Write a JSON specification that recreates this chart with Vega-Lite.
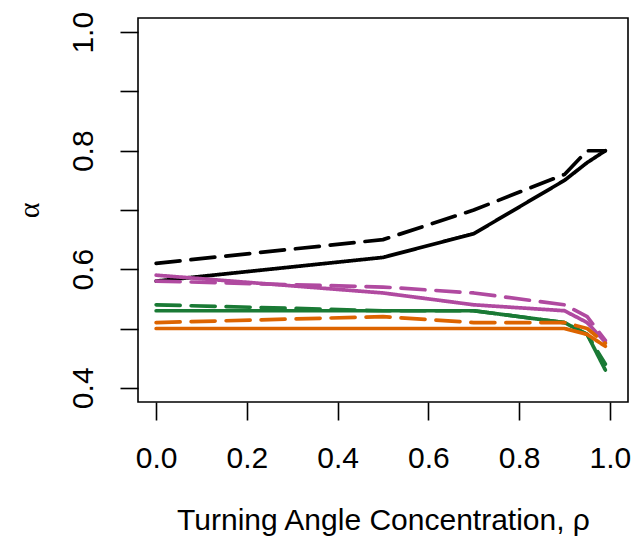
{
  "$schema": "https://vega.github.io/schema/vega-lite/v6.json",
  "width": 490,
  "height": 384,
  "autosize": {"type": "none"},
  "padding": {"left": 138, "top": 18, "right": 6, "bottom": 137},
  "background": "white",
  "config": {
    "view": {"stroke": "black", "strokeWidth": 1.6},
    "font": "Liberation Sans"
  },
  "data": {
    "values": [
      {"group": "black", "type": "solid", "x": 0.0, "alpha": 0.58},
      {"group": "black", "type": "solid", "x": 0.5, "alpha": 0.62},
      {"group": "black", "type": "solid", "x": 0.7, "alpha": 0.66},
      {"group": "black", "type": "solid", "x": 0.9, "alpha": 0.75},
      {"group": "black", "type": "solid", "x": 0.95, "alpha": 0.78},
      {"group": "black", "type": "solid", "x": 0.99, "alpha": 0.80},
      {"group": "black", "type": "dashed", "x": 0.0, "alpha": 0.61},
      {"group": "black", "type": "dashed", "x": 0.5, "alpha": 0.65},
      {"group": "black", "type": "dashed", "x": 0.7, "alpha": 0.70},
      {"group": "black", "type": "dashed", "x": 0.9, "alpha": 0.76},
      {"group": "black", "type": "dashed", "x": 0.95, "alpha": 0.80},
      {"group": "black", "type": "dashed", "x": 0.99, "alpha": 0.80},
      {"group": "purple", "type": "solid", "x": 0.0, "alpha": 0.59},
      {"group": "purple", "type": "solid", "x": 0.5, "alpha": 0.56},
      {"group": "purple", "type": "solid", "x": 0.7, "alpha": 0.54},
      {"group": "purple", "type": "solid", "x": 0.9, "alpha": 0.53},
      {"group": "purple", "type": "solid", "x": 0.95, "alpha": 0.51},
      {"group": "purple", "type": "solid", "x": 0.99, "alpha": 0.477},
      {"group": "purple", "type": "dashed", "x": 0.0, "alpha": 0.58},
      {"group": "purple", "type": "dashed", "x": 0.5, "alpha": 0.57},
      {"group": "purple", "type": "dashed", "x": 0.7, "alpha": 0.56},
      {"group": "purple", "type": "dashed", "x": 0.9, "alpha": 0.54},
      {"group": "purple", "type": "dashed", "x": 0.95, "alpha": 0.52},
      {"group": "purple", "type": "dashed", "x": 0.99, "alpha": 0.48},
      {"group": "green", "type": "solid", "x": 0.0, "alpha": 0.53},
      {"group": "green", "type": "solid", "x": 0.5, "alpha": 0.53},
      {"group": "green", "type": "solid", "x": 0.7, "alpha": 0.53},
      {"group": "green", "type": "solid", "x": 0.9, "alpha": 0.51},
      {"group": "green", "type": "solid", "x": 0.95, "alpha": 0.49},
      {"group": "green", "type": "solid", "x": 0.99, "alpha": 0.43},
      {"group": "green", "type": "dashed", "x": 0.0, "alpha": 0.54},
      {"group": "green", "type": "dashed", "x": 0.5, "alpha": 0.53},
      {"group": "green", "type": "dashed", "x": 0.7, "alpha": 0.53},
      {"group": "green", "type": "dashed", "x": 0.9, "alpha": 0.51},
      {"group": "green", "type": "dashed", "x": 0.95, "alpha": 0.49},
      {"group": "green", "type": "dashed", "x": 0.99, "alpha": 0.44},
      {"group": "orange", "type": "solid", "x": 0.0, "alpha": 0.50},
      {"group": "orange", "type": "solid", "x": 0.5, "alpha": 0.50},
      {"group": "orange", "type": "solid", "x": 0.7, "alpha": 0.50},
      {"group": "orange", "type": "solid", "x": 0.9, "alpha": 0.50},
      {"group": "orange", "type": "solid", "x": 0.95, "alpha": 0.49},
      {"group": "orange", "type": "solid", "x": 0.99, "alpha": 0.47},
      {"group": "orange", "type": "dashed", "x": 0.0, "alpha": 0.51},
      {"group": "orange", "type": "dashed", "x": 0.5, "alpha": 0.52},
      {"group": "orange", "type": "dashed", "x": 0.7, "alpha": 0.51},
      {"group": "orange", "type": "dashed", "x": 0.9, "alpha": 0.51},
      {"group": "orange", "type": "dashed", "x": 0.95, "alpha": 0.50},
      {"group": "orange", "type": "dashed", "x": 0.99, "alpha": 0.475}
    ]
  },
  "mark": {"type": "line", "strokeWidth": 3.7, "strokeCap": "round", "strokeJoin": "round", "clip": true},
  "encoding": {
    "x": {
      "field": "x", "type": "quantitative",
      "scale": {"domain": [-0.04, 1.04], "nice": false, "zero": false},
      "axis": {
        "values": [0, 0.2, 0.4, 0.6, 0.8, 1.0],
        "format": ".1f",
        "domain": false, "grid": false,
        "tickColor": "black", "tickWidth": 1.6, "tickSize": 18,
        "labelFontSize": 30, "labelColor": "black", "labelPadding": 23,
        "labelFont": "Liberation Sans", "labelFlush": false, "labelOverlap": false,
        "title": "Turning Angle Concentration, ρ",
        "titleFont": "Liberation Sans", "titleFontSize": 30, "titleFontWeight": "normal",
        "titleColor": "black", "titlePadding": 32
      }
    },
    "y": {
      "field": "alpha", "type": "quantitative",
      "scale": {"domain": [0.376, 1.024], "nice": false, "zero": false},
      "axis": {
        "values": [0.4, 0.5, 0.6, 0.7, 0.8, 0.9, 1.0],
        "labelExpr": "round(datum.value*10) % 2 == 0 ? format(datum.value, '.1f') : ''",
        "domain": false, "grid": false,
        "tickColor": "black", "tickWidth": 1.6, "tickSize": 18,
        "labelFontSize": 30, "labelColor": "black", "labelPadding": 22,
        "labelAngle": -90, "labelAlign": "center", "labelBaseline": "bottom",
        "labelFont": "Liberation Sans", "labelFlush": false, "labelOverlap": false,
        "title": "α",
        "titleFont": "Liberation Serif", "titleFontSize": 30, "titleFontWeight": "normal",
        "titleColor": "black", "titlePadding": 24
      }
    },
    "color": {
      "field": "group", "type": "nominal",
      "scale": {"domain": ["black", "purple", "green", "orange"], "range": ["#000000", "#B04AA0", "#1A7A35", "#DD6400"]},
      "legend": null
    },
    "strokeDash": {
      "field": "type", "type": "nominal",
      "scale": {"domain": ["solid", "dashed"], "range": [[1, 0], [24, 11]]},
      "legend": null
    },
    "detail": {"field": "type"}
  }
}
